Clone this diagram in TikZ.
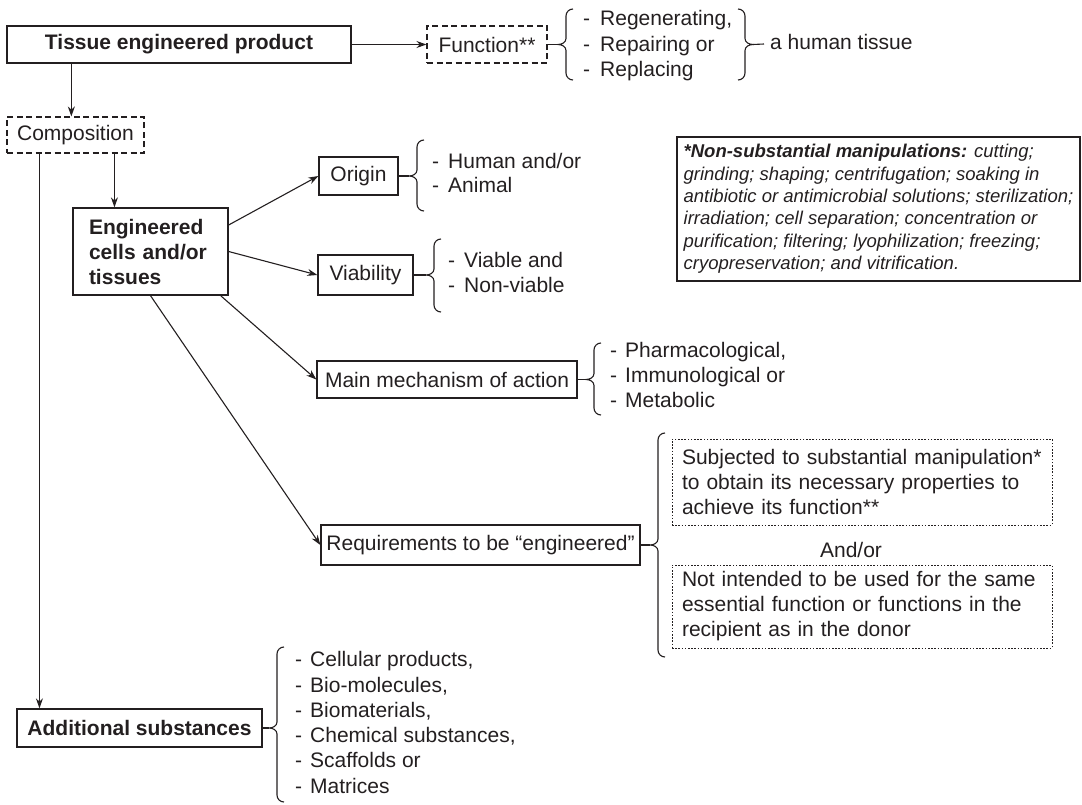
\documentclass[tikz,border=0pt]{standalone}
\usepackage{fontspec}
\setmainfont{Liberation Sans}
\usetikzlibrary{arrows.meta}
\definecolor{ink}{RGB}{35,31,32}
% left brace: #1 vertical x, #2 top, #3 mid, #4 bottom, #5 tip name
\newcommand\myLbrace[5]{%
  \draw[brc] ({#1+7},#2) to[out=180,in=90] (#1,{#2+7}) -- (#1,{#3-6})
    to[out=-90,in=0] ({#1-8},#3) to[out=0,in=90] (#1,{#3+6})
    -- (#1,{#4-7}) to[out=-90,in=180] ({#1+7},#4);
  \coordinate (#5) at ({#1-8},#3);}
\newcommand\myRbrace[5]{%
  \draw[brc] ({#1-7},#2) to[out=0,in=90] (#1,{#2+7}) -- (#1,{#3-6})
    to[out=-90,in=180] ({#1+8},#3) to[out=180,in=90] (#1,{#3+6})
    -- (#1,{#4-7}) to[out=-90,in=0] ({#1-7},#4);
  \coordinate (#5) at ({#1+8},#3);}
\begin{document}
\begin{tikzpicture}[x=1pt,y=-1pt,
  every node/.style={text=ink},
  font=\fontsize{21}{25}\selectfont,
  box/.style={draw=ink, line width=1.3pt, inner sep=0pt, anchor=center},
  dbox/.style={box, line width=1.1pt, dash pattern=on 6pt off 3.5pt},
  obox/.style={box, line width=1pt, dash pattern=on 1.6pt off 1.6pt},
  arr/.style={draw=ink, line width=1.1pt, -{Stealth[length=10pt,width=7pt]}},
  con/.style={draw=ink, line width=1.1pt},
  brc/.style={draw=ink, line width=1.1pt},
  lst/.style={anchor=west, inner sep=0pt, text height=15pt, text depth=4.5pt},
  bold/.style={font=\fontsize{21}{25}\selectfont\bfseries},
]
\useasboundingbox (0,0) rectangle (1082,805);

% main boxes
\node[box, bold, minimum width=344pt, minimum height=37pt] (tep) at (179,44.5) {Tissue engineered product};
\node[dbox, minimum width=120pt, minimum height=37pt] (func) at (487,44.5) {Function**};
\node[dbox, minimum width=137pt, minimum height=36pt] (comp) at (75.5,135) {Composition};
\node[box, bold, minimum width=155pt, minimum height=87pt, inner xsep=16pt, text width=123pt, align=left] (eng) at (150.5,251.5) {Engineered\\cells and/or\\tissues};
\node[box, minimum width=79pt, minimum height=38pt] (origin) at (358.5,176) {Origin};
\node[box, minimum width=95pt, minimum height=40pt] (viab) at (365.5,275) {Viability};
\node[box, minimum width=260pt, minimum height=37pt] (mech) at (447,379.5) {Main mechanism of action};
\node[box, minimum width=319pt, minimum height=40pt] (req) at (480.5,545) {Requirements to be “engineered”};
\node[box, bold, minimum width=245pt, minimum height=38pt] (add) at (139.5,728) {Additional substances};

\node[obox, minimum width=380pt, minimum height=86pt, inner xsep=10pt, text width=360pt, align=left] (sub1) at (862,482)
  {Subjected to substantial manipulation*\\to obtain its necessary properties to\\achieve its function**};
\node (andor) at (851,550) {And/or};
\node[obox, minimum width=380pt, minimum height=83pt, inner xsep=10pt, text width=360pt, align=left] (sub2) at (862,606.5)
  {Not intended to be used for the same\\essential function or functions in the\\recipient as in the donor};

\node[box, line width=1.2pt, minimum width=403pt, minimum height=144pt, align=left,
      font=\fontsize{18.5}{22.4}\selectfont\itshape] (note) at (878.5,209)
  {\textbf{*Non-substantial manipulations:} cutting;\\
   grinding; shaping; centrifugation; soaking in\\
   antibiotic or antimicrobial solutions; sterilization;\\
   irradiation; cell separation; concentration or\\
   purification; filtering; lyophilization; freezing;\\
   cryopreservation; and vitrification.};

% lists
\node[lst] (f1) at (583,20) {\makebox[17pt][l]{-}Regenerating,};
\node[lst] (f2) at (583,46) {\makebox[17pt][l]{-}Repairing or};
\node[lst] (f3) at (583,71) {\makebox[17pt][l]{-}Replacing};
\node[lst] (human) at (770,44) {a human tissue};

\node[lst] (o1) at (432,163) {\makebox[16pt][l]{-}Human and/or};
\node[lst] (o2) at (432,187) {\makebox[16pt][l]{-}Animal};

\node[lst] (v1) at (448,262) {\makebox[16pt][l]{-}Viable and};
\node[lst] (v2) at (448,287) {\makebox[16pt][l]{-}Non-viable};

\node[lst] (m1) at (610,352) {\makebox[15pt][l]{-}Pharmacological,};
\node[lst] (m2) at (610,377) {\makebox[15pt][l]{-}Immunological or};
\node[lst] (m3) at (610,402) {\makebox[15pt][l]{-}Metabolic};

\node[lst] (a1) at (295,661) {\makebox[15pt][l]{-}Cellular products,};
\node[lst] (a2) at (295,687) {\makebox[15pt][l]{-}Bio-molecules,};
\node[lst] (a3) at (295,712) {\makebox[15pt][l]{-}Biomaterials,};
\node[lst] (a4) at (295,737) {\makebox[15pt][l]{-}Chemical substances,};
\node[lst] (a5) at (295,762) {\makebox[15pt][l]{-}Scaffolds or};
\node[lst] (a6) at (295,788) {\makebox[15pt][l]{-}Matrices};

% braces
\myLbrace{566}{9}{44.5}{80}{ftip}
\myRbrace{745}{9}{44.5}{80}{htip}
\myLbrace{417}{140}{176}{211}{otip}
\myLbrace{434}{239}{275}{312}{vtip}
\myLbrace{594}{343}{379.5}{415}{mtip}
\myLbrace{658}{433}{545}{657}{rtip}
\myLbrace{277}{647}{728}{802}{atip}

% connectors
\draw[arr] (tep.east) -- (func.west);
\draw[con] (func.east) -- (ftip);
\draw[con] (htip) -- ([xshift=-6pt]human.west);
\draw[arr] ([xshift=65pt]tep.south west) -- ([xshift=65pt]tep.south west |- comp.north);
\draw[arr] ([xshift=108pt]comp.south west) -- ([xshift=108pt]comp.south west |- eng.north);
\draw[arr] ([xshift=33pt]comp.south west) -- ([xshift=33pt]comp.south west |- add.north);
\draw[arr] ([yshift=26.5pt]eng.east) -- (origin.west);
\draw[arr] (eng.east) -- (viab.west);
\draw[arr] ([xshift=-8pt]eng.south east) -- (mech.west);
\draw[arr] (eng.south) -- (req.west);
\draw[con] (origin.east) -- (otip);
\draw[con] (viab.east) -- (vtip);
\draw[con] (mech.east) -- (mtip);
\draw[con] (req.east) -- (rtip);
\draw[con] (add.east) -- (atip);
\end{tikzpicture}
\end{document}
